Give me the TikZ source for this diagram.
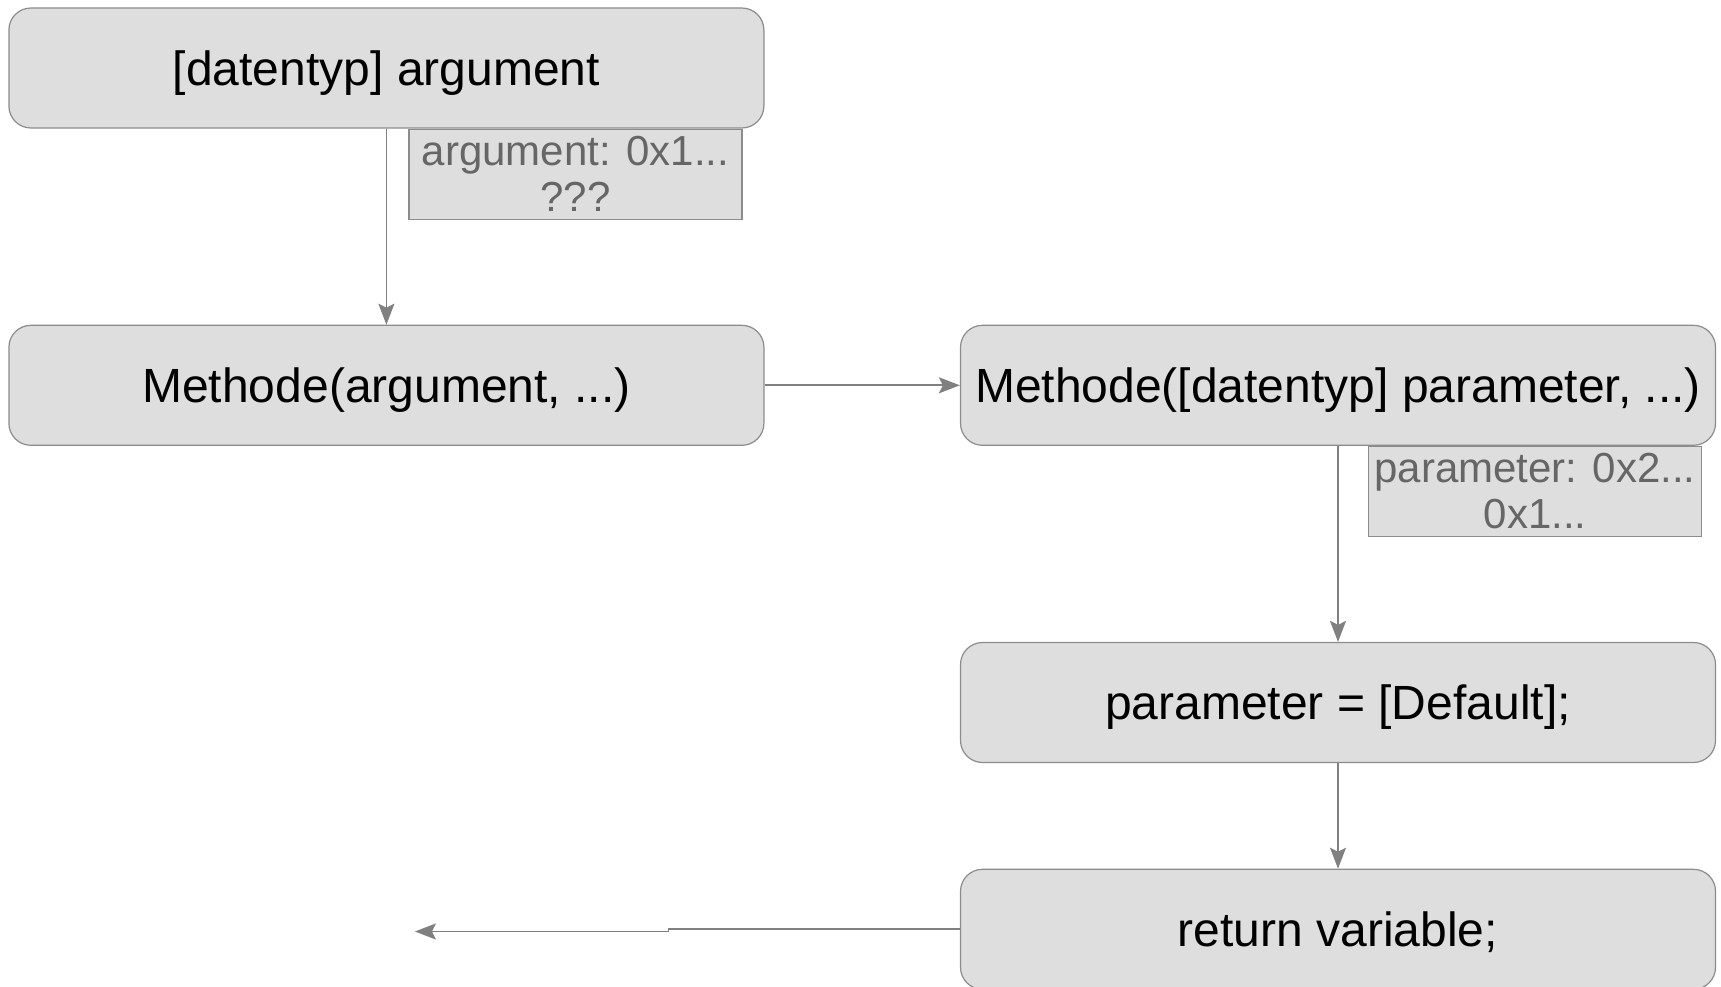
\documentclass[tikz,border=0pt]{standalone}
\usepackage{fontspec}
\setmainfont{Liberation Sans}
\usetikzlibrary{%
	arrows.meta,%
	positioning%
}
\definecolor{kasten}{RGB}{221,222,221}
\definecolor{randgrau}{RGB}{140,140,140}
\definecolor{pfeilgrau}{RGB}{128,128,128}
\definecolor{wertgrau}{RGB}{102,102,102}

\begin{document}
\begin{tikzpicture}[x=1pt,y=-1pt,
	block/.style={draw=randgrau,fill=kasten,line width=1.2pt,rounded corners=22pt,
		minimum width=755pt,minimum height=120pt,inner sep=0pt,text depth=0pt,
		font=\fontsize{48}{56}\selectfont},
	wertbox/.style={draw=randgrau,fill=kasten,line width=1.2pt,minimum width=333pt,
		minimum height=90pt,inner sep=0pt,align=center,text=wertgrau,
		font=\fontsize{42}{46}\selectfont},
	fluss/.style={draw=pfeilgrau,line width=1.8pt,
		-{Stealth[length=21pt,width=16pt,inset=4pt]}}]
			\useasboundingbox (0,0) rectangle (1721,987);
			% linke Spalte
			\node[block] (arg) at (386.4,68) {[datentyp] argument};
			\node[block] (meth) at (386.4,385.3) {Methode(argument, ...)};
			% rechte Spalte
			\node[block] (methpar) at (1338,385.3) {Methode([datentyp] parameter, ...)};
			\node[block] (param) at (1338,702.5) {parameter = [Default];};
			\node[block] (ret) at (1338,929.3) {return variable;};
			% Werte
			\node[wertbox,anchor=north east] (argwert) at ([xshift=-22pt]arg.south east)
			{argument: 0x1...\\???};
			\node[wertbox,anchor=north east] (parwert) at ([xshift=-14pt]methpar.south east)
			{parameter: 0x2...\\0x1...};
			\coordinate (knick) at (668.4,929.3);
			\coordinate (ende) at (414.9,931.5);
			\path (arg) edge[fluss] (meth)
			(meth) edge[fluss] (methpar)
			(methpar.south) edge[fluss] (param)
			(param) edge[fluss] (ret)
			;
			\draw [fluss] (ret.west) -- (knick) |- (ende);
		\end{tikzpicture}
\end{document}
